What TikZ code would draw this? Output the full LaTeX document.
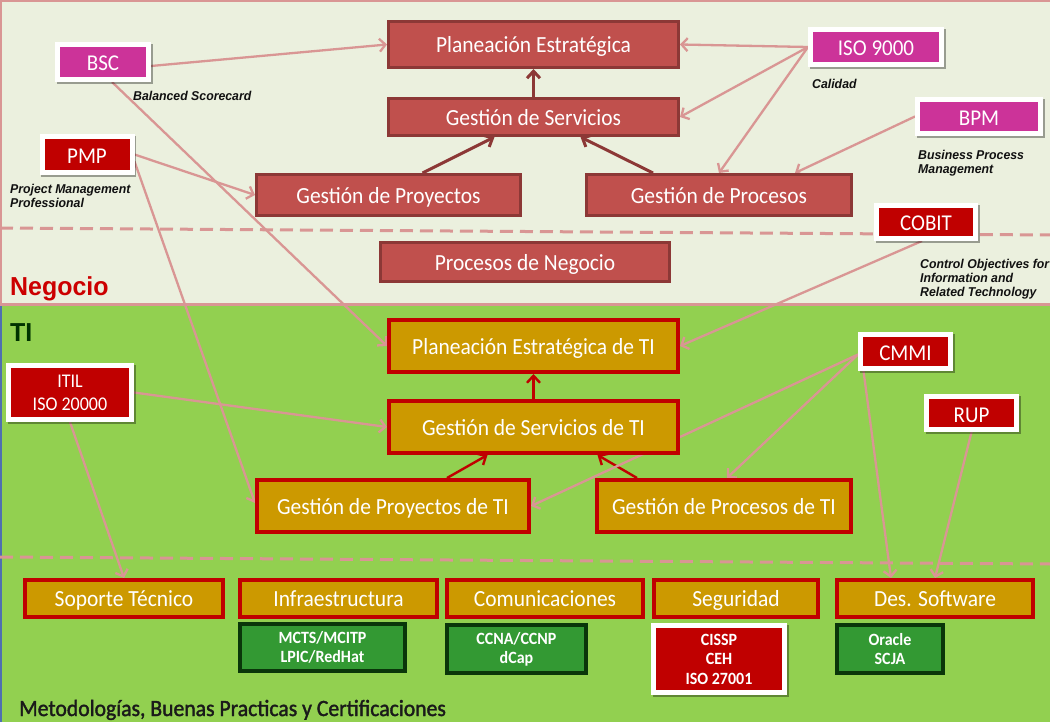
\documentclass[tikz,border=0pt]{standalone}
\usepackage{fontspec}
\setmainfont{Carlito}[FakeStretch=0.93]
\newfontfamily\arialf{Liberation Sans}[FakeStretch=0.96]
\newfontfamily\metfont{Carlito}[FakeStretch=0.93,FakeBold=1.6]
\usetikzlibrary{arrows.meta}
\definecolor{topbg}{HTML}{EBF0DE}
\definecolor{tigreen}{HTML}{92D050}
\definecolor{pinkl}{HTML}{D99694}
\definecolor{bizfill}{HTML}{C0504D}
\definecolor{bizline}{HTML}{8C3836}
\definecolor{tifill}{HTML}{CC9900}
\definecolor{tired}{HTML}{C00000}
\definecolor{magbox}{HTML}{CC3399}
\definecolor{certgreen}{HTML}{339933}
\definecolor{certline}{HTML}{0A360A}
\definecolor{leftblue}{HTML}{4F6FB0}
\definecolor{negred}{HTML}{CC0000}
\definecolor{tidark}{HTML}{003300}
\definecolor{lbltext}{HTML}{111111}
\definecolor{mettext}{HTML}{1A1A1A}
\pgfdeclarelayer{bg}
\pgfdeclarelayer{lines}
\pgfsetlayers{bg,lines,main}
\begin{document}
\begin{tikzpicture}[x=1pt,y=-1pt,
  nfont/.style={font=\fontsize{23.1}{26}\selectfont},
  bizbox/.style={draw=bizline, fill=bizfill, line width=3.3pt, text=white, nfont,
     inner sep=0pt, text height=17pt, text depth=0pt},
  tibox/.style={draw=tired, fill=tifill, line width=4pt, text=white, nfont,
     inner sep=0pt, text height=16.5pt, text depth=0pt},
  certbox/.style={draw=certline, fill=certgreen, line width=4pt, text=white,
     font=\fontsize{17.2}{19}\selectfont\bfseries, align=center, inner sep=0pt},
  tagbox/.style={draw=white, line width=5pt, text=white, inner sep=0pt,
     font=\fontsize{22.6}{24}\selectfont, align=center,
     preaction={draw=black, fill=black, opacity=0.35, line width=5pt,
       transform canvas={shift={(1.8pt,-1.8pt)}}}},
  tagone/.style={tagbox, text height=18pt, text depth=0pt},
  lbl/.style={font=\arialf\fontsize{12.8}{14.2}\selectfont\bfseries\itshape,
     text=lbltext, inner sep=0pt, align=left, anchor=north west},
  pinkarrow/.style={draw=pinkl, line width=2.3pt, -{Straight Barb[length=6pt,width=13pt]}},
  bizarrow/.style={draw=bizline, line width=3pt, -{Straight Barb[length=7pt,width=13pt]}},
  tiarrow/.style={draw=tired, line width=2.4pt, -{Straight Barb[length=7pt,width=13pt]}},
  sepdash/.style={draw=pinkl, line width=3pt, dash pattern=on 13pt off 7pt}
]
\useasboundingbox (0,0) rectangle (1050,722);

% ---------- backgrounds ----------
\begin{pgfonlayer}{bg}
  \fill[topbg] (0,0) rectangle (1050,305);
  \fill[tigreen] (0,305) rectangle (1050,722);
  \draw[pinkl, line width=2pt] (1,305) -- (1,1) -- (1050,1);
  \draw[leftblue, line width=2.5pt] (1.2,305) -- (1.2,722);
  \draw[pinkl, line width=3pt] (0,304.5) -- (1050,304.5);
  \draw[sepdash] (0,228) -- (1050,235);
  \draw[sepdash] (0,557) -- (1050,564);
\end{pgfonlayer}

% ---------- business boxes ----------
\node[bizbox, minimum width=289.7pt, minimum height=45.7pt] (pe)  at (533.5,44.5) {Planeación Estratégica};
\node[bizbox, minimum width=289.7pt, minimum height=36.7pt] (gs)  at (533.5,117) {Gestión de Servicios};
\node[bizbox, minimum width=263.7pt, minimum height=40.7pt] (gp)  at (388.5,195) {Gestión de Proyectos};
\node[bizbox, minimum width=264.7pt, minimum height=40.7pt] (gpr) at (719,195) {Gestión de Procesos};
\node[bizbox, minimum width=288.7pt, minimum height=38.7pt] (pn)  at (525,262) {Procesos de Negocio};

% ---------- TI boxes ----------
\node[tibox, minimum width=289pt, minimum height=52pt] (peti)  at (533.5,346) {Planeación Estratégica de TI};
\node[tibox, minimum width=289pt, minimum height=52pt] (gsti)  at (533.5,427) {Gestión de Servicios de TI};
\node[tibox, minimum width=272pt, minimum height=52pt] (gpti)  at (393,506) {Gestión de Proyectos de TI};
\node[tibox, minimum width=254pt, minimum height=52pt] (gprti) at (724,506) {Gestión de Procesos de TI};

\node[tibox, minimum width=198pt, minimum height=37pt] (sop) at (124,598.5) {Soporte Técnico};
\node[tibox, minimum width=197pt, minimum height=37pt] (inf) at (338.5,598.5) {Infraestructura};
\node[tibox, minimum width=196pt, minimum height=37pt] (com) at (545,598.5) {Comunicaciones};
\node[tibox, minimum width=164pt, minimum height=37pt] (seg) at (736,598.5) {Seguridad};
\node[tibox, minimum width=196pt, minimum height=37pt] (des) at (935,598.5) {Des. Software};

% ---------- certification boxes ----------
\node[certbox, minimum width=165pt, minimum height=47pt] (mcts) at (322.5,647.5) {MCTS/MCITP\\LPIC/RedHat};
\node[certbox, minimum width=139pt, minimum height=48pt] (ccna) at (516.5,649) {CCNA/CCNP\\dCap};
\node[certbox, minimum width=106pt, minimum height=48pt] (orac) at (890,649) {Oracle\\SCJA};
\node[tagbox, fill=tired, minimum width=131pt, minimum height=67pt,
      font=\fontsize{17.2}{19.5}\selectfont\bfseries] (cissp) at (719,659) {CISSP\\CEH\\ISO 27001};

% ---------- tag boxes ----------
\node[tagone, fill=magbox, minimum width=91pt, minimum height=35pt] (bsc) at (103,62) {BSC};
\node[tagone, fill=tired, minimum width=90pt, minimum height=36pt] (pmp) at (87,154.5) {PMP};
\node[tagone, fill=magbox, minimum width=131pt, minimum height=35pt] (iso) at (876,47) {ISO 9000};
\node[tagone, fill=magbox, minimum width=123pt, minimum height=34pt] (bpm) at (979,116.5) {BPM};
\node[tagone, fill=tired, minimum width=99pt, minimum height=33pt] (cobit) at (926,222) {COBIT};
\node[tagbox, fill=tired, minimum width=123pt, minimum height=54pt,
      font=\fontsize{19.4}{23}\selectfont] (itil) at (70,392.5) {ITIL\\ISO 20000};
\node[tagone, fill=tired, minimum width=90pt, minimum height=34pt] (cmmi) at (905.5,351.5) {CMMI};
\node[tagone, fill=tired, minimum width=90pt, minimum height=33pt] (rup) at (971.5,413) {RUP};

% ---------- labels ----------
\node[lbl, anchor=base west] (lbsc) at (133,101) {Balanced Scorecard};
\node[lbl] (lpmp) at (10,183) {\strut Project Management\\Professional};
\node[lbl, anchor=base west] (liso) at (812,89) {Calidad};
\node[lbl] (lbpm) at (918,149) {\strut Business Process\\Management};
\node[lbl] (lcob) at (920,258) {\strut Control Objectives for\\Information and\\Related Technology};

\node[anchor=base west, inner sep=0pt, text=negred,
      font=\arialf\fontsize{26}{30}\selectfont\bfseries] (neg) at (10,295) {Negocio};
\node[anchor=base west, inner sep=0pt, text=tidark,
      font=\arialf\fontsize{26}{30}\selectfont\bfseries] (ti) at (10,341) {TI};
\node[anchor=base west, inner sep=0pt, text=mettext,
      font=\metfont\fontsize{23.3}{26}\selectfont] (met) at (19,716) {Metodologías, Buenas Practicas y Certificaciones};

% ---------- connectors ----------
\begin{pgfonlayer}{lines}
  % internal business arrows
  \draw[bizarrow] (gs.north) -- (pe.south);
  \draw[bizarrow] ([xshift=34pt]gp.north) -- ([xshift=-39pt]gs.south);
  \draw[bizarrow] ([xshift=-66pt]gpr.north) -- ([xshift=47pt]gs.south);
  % internal TI arrows
  \draw[tiarrow] (gsti.north) -- (peti.south);
  \draw[tiarrow] ([xshift=54pt]gpti.north) -- ([xshift=-46pt]gsti.south);
  \draw[tiarrow] ([xshift=-87pt]gprti.north) -- ([xshift=64pt]gsti.south);
  % pink references
  \draw[pinkarrow] ([yshift=-4pt]bsc.east) -- (pe.west);
  \draw[pinkarrow] ([xshift=9pt]bsc.south) -- (peti.west);
  \draw[pinkarrow] (pmp.east) -- (gp.west);
  \draw[pinkarrow] ([yshift=-7pt]pmp.east) -- ([yshift=3pt]gpti.west);
  \draw[pinkarrow] (iso.west) -- (pe.east);
  \draw[pinkarrow] (iso.west) -- (gs.east);
  \draw[pinkarrow] (iso.west) -- (gpr.north);
  \draw[pinkarrow] (bpm.west) -- ([xshift=76pt]gpr.north);
  \draw[pinkarrow] ([xshift=-4pt]cobit.south) -- (peti.east);
  \draw[pinkarrow] (itil.east) -- (gsti.west);
  \draw[pinkarrow] (itil.south) -- (sop.north);
  \draw[pinkarrow] ([yshift=-3pt]cmmi.west) -- (gpti.east);
  \draw[pinkarrow] ([yshift=-3pt]cmmi.west) -- ([xshift=3pt]gprti.north);
  \draw[pinkarrow] ([xshift=-42pt]cmmi.south) -- ([xshift=-44pt]des.north);
  \draw[pinkarrow] (rup.south) -- (des.north);
\end{pgfonlayer}
\end{tikzpicture}
\end{document}
